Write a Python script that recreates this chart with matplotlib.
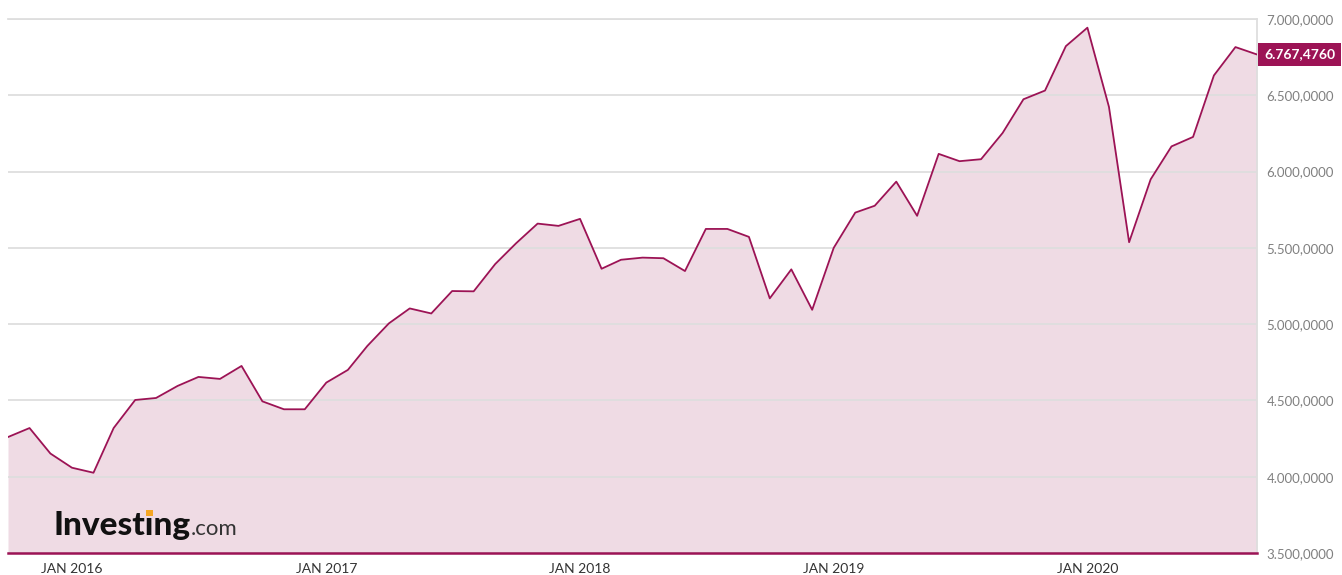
import matplotlib
matplotlib.use("Agg")
import matplotlib.pyplot as plt
import matplotlib.dates as mdates
import matplotlib.ticker as mticker
import matplotlib.patches as mpatches
import pandas as pd

# monthly values, Oct 2015 .. Sep 2020
months = pd.date_range("2015-10-01", "2020-09-01", freq="MS")
values = [
    4260.0, 4319.0, 4152.0,
    4059.0, 4026.0, 4319.0, 4503.0, 4516.0, 4595.0,
    4654.0, 4641.0, 4726.0, 4494.0, 4442.0, 4442.0,
    4617.0, 4700.0, 4857.0, 5005.0, 5103.0, 5070.0,
    5217.0, 5215.0, 5394.0, 5530.0, 5659.0, 5644.0,
    5690.0, 5363.0, 5422.0, 5436.0, 5432.0, 5348.0,
    5624.0, 5624.0, 5572.0, 5169.0, 5359.0, 5094.0,
    5500.0, 5731.0, 5776.0, 5934.0, 5710.0, 6116.0,
    6068.0, 6081.0, 6253.0, 6474.0, 6531.0, 6822.0,
    6943.0, 6424.0, 5537.0, 5949.0, 6165.0, 6227.0,
    6630.0, 6816.0, 6767.4760,
]
y_ticks = [3500, 4000, 4500, 5000, 5500, 6000, 6500, 7000]
x_ticks = pd.to_datetime(["2016-01-01", "2017-01-01", "2018-01-01", "2019-01-01", "2020-01-01"])

LINE = "#9c1355"
FILL = "#efdbe4"
GRID = "#dedede"

W, H = 1342, 575
fig = plt.figure(figsize=(W / 100, H / 100), dpi=100)
ax = fig.add_axes([8 / W, 1 - 553 / H, (1257 - 8) / W, (553 - 19) / H])

ax.fill_between(months, values, 3500, color=FILL, lw=0, zorder=1)
ax.plot(months, values, color=LINE, lw=1.3, zorder=3)

ax.set_xlim(months[0], months[-1])
ax.set_ylim(3500, 7000)

def fmt(v, pos=None):
    s = f"{v:,.4f}"
    return s.replace(",", "#").replace(".", ",").replace("#", ".")

ax.set_yticks(y_ticks)
ax.yaxis.set_major_formatter(mticker.FuncFormatter(fmt))
ax.yaxis.tick_right()
ax.tick_params(axis="y", length=0, pad=7, labelsize=9.5, labelcolor="#808080")
for lbl in ax.get_yticklabels():
    lbl.set_fontfamily("Lato")

ax.set_xticks(x_ticks)
ax.xaxis.set_major_formatter(mdates.DateFormatter("JAN %Y"))
ax.tick_params(axis="x", length=0, pad=7, labelsize=10, labelcolor="#333333")
for lbl in ax.get_xticklabels():
    lbl.set_fontfamily("Lato")

ax.grid(axis="y", color=GRID, lw=1.3, zorder=2)
ax.grid(axis="x", visible=False)
ax.spines["left"].set_visible(False)
for side in ["top", "right"]:
    ax.spines[side].set_color(GRID)
    ax.spines[side].set_linewidth(1.3)
ax.spines["bottom"].set_color(LINE)
ax.spines["bottom"].set_linewidth(1.8)
ax.spines["bottom"].set_zorder(4)

# last value tag
ax.annotate(fmt(values[-1]), xy=(1.0, values[-1]), xycoords=("axes fraction", "data"),
            xytext=(5, 0), textcoords="offset points", va="center", ha="left",
            fontsize=10, fontweight="bold", color="white", family="Lato",
            bbox=dict(boxstyle="square,pad=0.4", fc=LINE, ec="none"),
            annotation_clip=False)

# watermark
base_y = 535
fsize = 24
t1 = fig.text(53 / W, 1 - base_y / H, "Investing", fontsize=fsize, fontweight="black",
              family="Lato", color="#111111", va="baseline", ha="left")
fig.canvas.draw()
renderer = fig.canvas.get_renderer()
bb = t1.get_window_extent(renderer)
fig.text((bb.x1 + 1) / W, 1 - base_y / H, ".com", fontsize=16, family="Lato",
         color="#333333", va="baseline", ha="left")

# orange dot over the "i"
def text_width(s):
    t = fig.text(0, 0, s, fontsize=fsize, fontweight="black", family="Lato")
    w = t.get_window_extent(renderer).width
    t.remove()
    return w

x0 = bb.x0 + text_width("Invest")
x1 = bb.x0 + text_width("Investi")
em = fsize * 100 / 72
dot_bottom = H - base_y + 0.56 * em
dot_top = H - base_y + 0.76 * em
fig.patches.append(mpatches.Rectangle((x0 + 1 / 1, dot_bottom), (x1 - x0) - 2, dot_top - dot_bottom,
                                      transform=None, fc="#f5a623", ec="none", zorder=5))

fig.savefig("out.png", dpi=100)
